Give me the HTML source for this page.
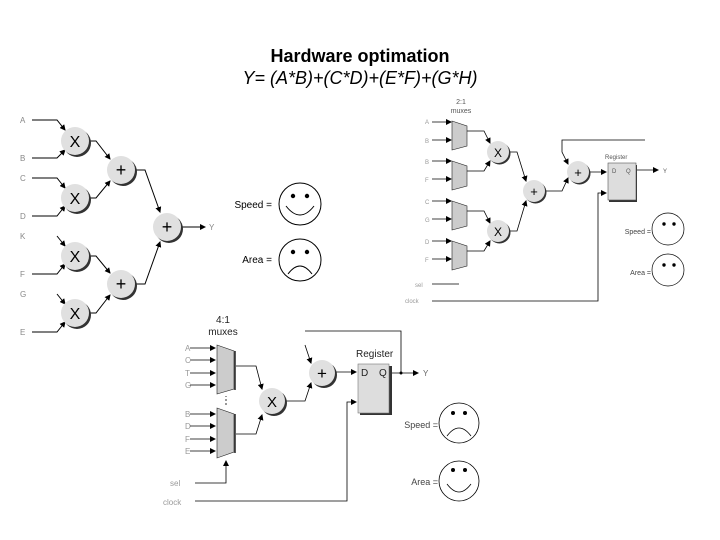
<!DOCTYPE html>
<html><head><meta charset="utf-8"><style>
html,body{margin:0;padding:0;background:#fff;}
svg{display:block;font-family:"Liberation Sans",sans-serif;}
</style></head><body>
<svg width="720" height="540" viewBox="0 0 720 540" xmlns="http://www.w3.org/2000/svg">
<defs>
<marker id="ar" markerWidth="6" markerHeight="6" refX="5" refY="3" orient="auto" markerUnits="userSpaceOnUse"><path d="M0,0 L6,3 L0,6 z" fill="#000"/></marker>
</defs>
<text x="360" y="62" text-anchor="middle" font-size="18" font-weight="bold">Hardware optimation</text>
<text x="360" y="84" text-anchor="middle" font-size="18" font-style="italic">Y= (A*B)+(C*D)+(E*F)+(G*H)</text>

<!-- LEFT DIAGRAM -->
<g font-size="8" fill="#888">
<text x="20" y="123">A</text><text x="20" y="161">B</text><text x="20" y="181">C</text><text x="20" y="219">D</text>
<text x="20" y="239">K</text><text x="20" y="277">F</text><text x="20" y="297">G</text><text x="20" y="335">E</text>
</g>
<g stroke="#000" stroke-width="1" fill="none">
<path d="M32,120 H57 L65,130" marker-end="url(#ar)"/>
<path d="M32,158 H57 L65,150" marker-end="url(#ar)"/>
<path d="M32,178 H57 L65,188" marker-end="url(#ar)"/>
<path d="M32,216 H57 L65,206" marker-end="url(#ar)"/>
<path d="M57,236 L65,246" marker-end="url(#ar)"/>
<path d="M32,274 H57 L65,264" marker-end="url(#ar)"/>
<path d="M57,294 L65,304" marker-end="url(#ar)"/>
<path d="M32,332 H57 L65,322" marker-end="url(#ar)"/>
<path d="M89,141 H96 L110,159" marker-end="url(#ar)"/>
<path d="M89,198 H96 L110,181" marker-end="url(#ar)"/>
<path d="M89,256 H96 L110,273" marker-end="url(#ar)"/>
<path d="M89,313 H96 L110,295" marker-end="url(#ar)"/>
<path d="M135,170 H145 L160,212" marker-end="url(#ar)"/>
<path d="M135,284 H145 L160,242" marker-end="url(#ar)"/>
<path d="M181,227 H205" marker-end="url(#ar)"/>
</g>
<g font-size="8" fill="#888"><text x="209" y="230">Y</text></g>
<g>
<g transform="translate(75,141)"><circle cx="2" cy="2" r="14" fill="#333"/><circle r="14" fill="#e0e0e0"/><text y="6" text-anchor="middle" font-size="16">X</text></g>
<g transform="translate(75,198)"><circle cx="2" cy="2" r="14" fill="#333"/><circle r="14" fill="#e0e0e0"/><text y="6" text-anchor="middle" font-size="16">X</text></g>
<g transform="translate(75,256)"><circle cx="2" cy="2" r="14" fill="#333"/><circle r="14" fill="#e0e0e0"/><text y="6" text-anchor="middle" font-size="16">X</text></g>
<g transform="translate(75,313)"><circle cx="2" cy="2" r="14" fill="#333"/><circle r="14" fill="#e0e0e0"/><text y="6" text-anchor="middle" font-size="16">X</text></g>
<g transform="translate(121,170)"><circle cx="2" cy="2" r="14" fill="#333"/><circle r="14" fill="#e0e0e0"/><text y="6" text-anchor="middle" font-size="18">+</text></g>
<g transform="translate(121,284)"><circle cx="2" cy="2" r="14" fill="#333"/><circle r="14" fill="#e0e0e0"/><text y="6" text-anchor="middle" font-size="18">+</text></g>
<g transform="translate(167,227)"><circle cx="2" cy="2" r="14" fill="#333"/><circle r="14" fill="#e0e0e0"/><text y="6" text-anchor="middle" font-size="18">+</text></g>
</g>
<text x="272" y="208" text-anchor="end" font-size="10">Speed =</text>
<text x="272" y="263" text-anchor="end" font-size="10">Area =</text>
<g stroke="#000" fill="none">
<circle cx="300" cy="204" r="21"/><path d="M286,206 Q300,224 314,206"/>
<circle cx="300" cy="260" r="21"/><path d="M288,274 Q300,258 312,274"/>
</g>
<g fill="#000"><circle cx="293" cy="196" r="2.2"/><circle cx="307" cy="196" r="2.2"/><circle cx="293" cy="252" r="2.2"/><circle cx="307" cy="252" r="2.2"/></g>

<!-- RIGHT DIAGRAM -->
<g font-size="7" fill="#555" text-anchor="middle"><text x="461" y="104">2:1</text><text x="461" y="113">muxes</text></g>
<g font-size="6" fill="#999">
<text x="425" y="124">A</text><text x="425" y="143">B</text><text x="425" y="164">B</text><text x="425" y="182">F</text>
<text x="425" y="204">C</text><text x="425" y="222">G</text><text x="425" y="244">D</text><text x="425" y="262">F</text>
<text x="415" y="287">sel</text><text x="405" y="303">clock</text>
</g>
<g stroke="#000" fill="none" stroke-width="0.8">
<path d="M432,122 H451" marker-end="url(#ar)"/><path d="M432,140 H451" marker-end="url(#ar)"/>
<path d="M432,161 H451" marker-end="url(#ar)"/><path d="M432,179 H451" marker-end="url(#ar)"/>
<path d="M432,201 H451" marker-end="url(#ar)"/><path d="M432,219 H451" marker-end="url(#ar)"/>
<path d="M432,241 H451" marker-end="url(#ar)"/><path d="M432,259 H451" marker-end="url(#ar)"/>
<path d="M467,131 H484 L490,143" marker-end="url(#ar)"/><path d="M467,171 H484 L490,161" marker-end="url(#ar)"/>
<path d="M467,211 H484 L490,223" marker-end="url(#ar)"/><path d="M467,251 H484 L490,241" marker-end="url(#ar)"/>
<path d="M510,152 H517 L526,181" marker-end="url(#ar)"/><path d="M510,231 H517 L526,201" marker-end="url(#ar)"/>
<path d="M545,191 H562 L568,178" marker-end="url(#ar)"/>
<path d="M645,140 H562 V152 L568,164" marker-end="url(#ar)"/>
<path d="M589,172 H606" marker-end="url(#ar)"/>
<path d="M636,170 H658" marker-end="url(#ar)"/>
<path d="M432,284 H459"/>
<path d="M432,301 H598 V193 H606" marker-end="url(#ar)"/>
</g>
<g fill="#ccc" stroke="#222" stroke-width="0.6">
<path d="M452,121 L467,126 V146 L452,150 Z"/><path d="M452,161 L467,166 V186 L452,190 Z"/>
<path d="M452,201 L467,206 V226 L452,230 Z"/><path d="M452,241 L467,246 V266 L452,270 Z"/>
</g>
<g>
<g transform="translate(498,152)"><circle cx="1.5" cy="1.5" r="11" fill="#333"/><circle r="11" fill="#e0e0e0"/><text y="5" text-anchor="middle" font-size="12">X</text></g>
<g transform="translate(498,231)"><circle cx="1.5" cy="1.5" r="11" fill="#333"/><circle r="11" fill="#e0e0e0"/><text y="5" text-anchor="middle" font-size="12">X</text></g>
<g transform="translate(534,191)"><circle cx="1.5" cy="1.5" r="11" fill="#333"/><circle r="11" fill="#e0e0e0"/><text y="5" text-anchor="middle" font-size="13">+</text></g>
<g transform="translate(578,172)"><circle cx="1.5" cy="1.5" r="11" fill="#333"/><circle r="11" fill="#e0e0e0"/><text y="5" text-anchor="middle" font-size="13">+</text></g>
</g>
<rect x="609" y="165" width="28" height="37" fill="#333"/>
<rect x="608" y="163" width="28" height="37" fill="#ddd" stroke="#555" stroke-width="0.6"/>
<g font-size="6" fill="#555"><text x="605" y="159">Register</text><text x="612" y="173">D</text><text x="626" y="173">Q</text><text x="663" y="173">Y</text></g>
<g font-size="7" fill="#444" text-anchor="end"><text x="651" y="234">Speed =</text><text x="651" y="275">Area =</text></g>
<g stroke="#000" fill="none" stroke-width="0.7"><circle cx="668" cy="229" r="16"/><circle cx="668" cy="270" r="16"/></g>
<g fill="#000"><circle cx="664" cy="224" r="1.7"/><circle cx="674" cy="224" r="1.7"/><circle cx="664" cy="265" r="1.7"/><circle cx="674" cy="265" r="1.7"/></g>

<!-- BOTTOM DIAGRAM -->
<g font-size="10" fill="#222" text-anchor="middle"><text x="223" y="323">4:1</text><text x="223" y="335">muxes</text></g>
<g font-size="8" fill="#999">
<text x="185" y="351">A</text><text x="185" y="363">C</text><text x="185" y="376">T</text><text x="185" y="388">G</text>
<text x="185" y="417">B</text><text x="185" y="429">D</text><text x="185" y="442">F</text><text x="185" y="454">E</text>
<text x="170" y="486">sel</text><text x="163" y="505">clock</text>
</g>
<g stroke="#000" fill="none" stroke-width="0.8">
<path d="M190,348 H215" marker-end="url(#ar)"/><path d="M190,360 H215" marker-end="url(#ar)"/>
<path d="M190,373 H215" marker-end="url(#ar)"/><path d="M190,385 H215" marker-end="url(#ar)"/>
<path d="M190,414 H215" marker-end="url(#ar)"/><path d="M190,426 H215" marker-end="url(#ar)"/>
<path d="M190,439 H215" marker-end="url(#ar)"/><path d="M190,451 H215" marker-end="url(#ar)"/>
<path d="M236,366 H256 L262,389" marker-end="url(#ar)"/>
<path d="M236,434 H256 L262,415" marker-end="url(#ar)"/>
<path d="M285,401 H305 L311,383" marker-end="url(#ar)"/>
<path d="M305,345 L311,363" marker-end="url(#ar)"/>
<path d="M305,331 H401 V373"/>
<path d="M336,372 H356" marker-end="url(#ar)"/>
<path d="M390,373 H418" marker-end="url(#ar)"/>
<path d="M195,483 H226 V461" marker-end="url(#ar)"/>
<path d="M226,405 V396" stroke-dasharray="2,2"/>
<path d="M195,501 H347 V402 H356" marker-end="url(#ar)"/>
</g>
<circle cx="401" cy="373" r="1.5"/>
<g fill="#ccc" stroke="#222" stroke-width="0.6">
<path d="M217,345 L234,351 V389 L217,394 Z"/><path d="M217,408 L234,414 V452 L217,458 Z"/>
</g>
<path d="M235,351 V390" stroke="#222" stroke-width="1.5"/><path d="M235,414 V453" stroke="#222" stroke-width="1.5"/>
<g transform="translate(272,401)"><circle cx="2" cy="2" r="13" fill="#333"/><circle r="13" fill="#e0e0e0"/><text y="6" text-anchor="middle" font-size="15">X</text></g>
<g transform="translate(322,373)"><circle cx="2" cy="2" r="13" fill="#333"/><circle r="13" fill="#e0e0e0"/><text y="6" text-anchor="middle" font-size="17">+</text></g>
<rect x="360" y="366" width="32" height="49" fill="#333"/>
<rect x="358" y="364" width="31" height="49" fill="#ddd" stroke="#777" stroke-width="0.6"/>
<g font-size="10" fill="#222"><text x="356" y="357">Register</text><text x="361" y="376">D</text><text x="379" y="376">Q</text></g>
<text x="423" y="376" font-size="8" fill="#666">Y</text>
<g font-size="9" fill="#444" text-anchor="end"><text x="438" y="428">Speed =</text><text x="438" y="485">Area =</text></g>
<g stroke="#000" fill="none" stroke-width="0.8">
<circle cx="459" cy="423" r="20"/><path d="M447,436 Q459,420 471,436"/>
<circle cx="459" cy="481" r="20"/><path d="M447,484 Q459,500 471,484"/>
</g>
<g fill="#000"><circle cx="453" cy="413" r="2"/><circle cx="465" cy="413" r="2"/><circle cx="453" cy="470" r="2"/><circle cx="465" cy="470" r="2"/></g>
</svg>
</body></html>
